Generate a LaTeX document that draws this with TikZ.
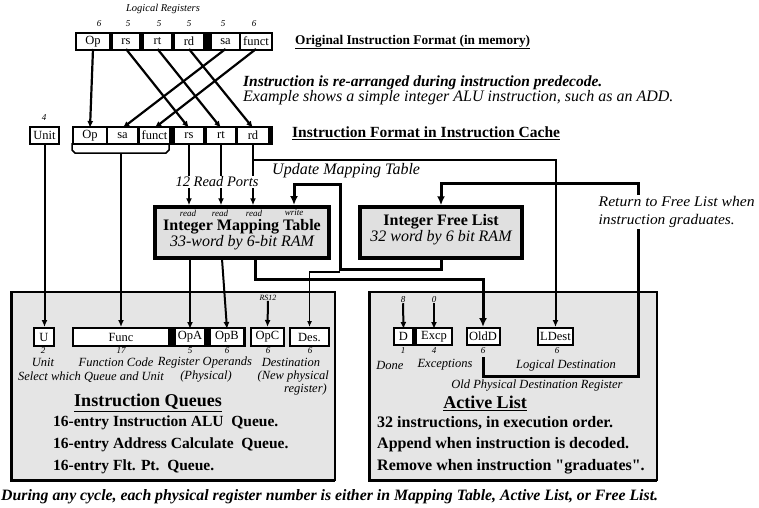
\documentclass[tikz,border=0pt]{standalone}
\usepackage{fontspec}
\setmainfont{Liberation Serif}
\usetikzlibrary{arrows.meta}
\newcommand\fsz[1]{\fontsize{#1}{#1}\selectfont}
\begin{document}
\begin{tikzpicture}[x=1pt,y=-1pt,
  blk/.style={fill=black,inner sep=0pt,outer sep=0pt},
  fld/.style={fill=white,inner sep=0pt,outer sep=0pt,minimum height=15,font=\fsz{12.5}},
  myarr/.style={-{Latex[length=7pt,width=6pt]}},
  xline/.style={line width=2.2pt,myarr},
  rline/.style={line width=2pt,myarr},
  tline/.style={line width=3pt,-{Latex[length=9pt,width=8pt]}},
  nline/.style={line width=1.3pt,-{Latex[length=6pt,width=5pt]}},
  lbl/.style={inner sep=0pt,font=\fsz{12.5}\itshape},
  numl/.style={inner sep=0pt,font=\fsz{9}\itshape},
  bodyt/.style={inner sep=0pt,anchor=west,font=\fsz{15.5}\bfseries},
  panel/.style={fill=black!10,draw=black,line width=1.2pt},
  ram/.style={fill=black!12,draw=black,line width=3.5pt,inner sep=0pt}
]
\useasboundingbox (0,0) rectangle (759,507);

% panels
\draw[panel] (11,292) rectangle (335,480);
\draw[line width=3pt] (11,292) -- (11,480) -- (335,480);
\draw[panel] (369,292) rectangle (657,480);
\draw[line width=3pt] (369,292) -- (369,480) -- (657,480);

% original format
\node[inner sep=0pt,font=\fsz{10.5}\itshape] (lr) at (163,9) {Logical Registers};
\node[numl] (n1) at (99,24) {6};
\node[numl] (n2) at (128,24) {5};
\node[numl] (n3) at (159,24) {5};
\node[numl] (n4) at (189,24) {5};
\node[numl] (n5) at (223,24) {5};
\node[numl] (n6) at (254,24) {6};
\node[blk,minimum width=198,minimum height=19] (orig) at (174,41.5) {};
\node[fld,minimum width=32] (oOp) at (93,41.5) {Op};
\node[fld,minimum width=26] (oRs) at (126,41.5) {rs};
\node[fld,minimum width=27] (oRt) at (157.5,41.5) {rt};
\node[fld,minimum width=28] (oRd) at (189,41.5) {rd};
\node[fld,minimum width=27] (oSa) at (225.5,41.5) {sa};
\node[fld,minimum width=30] (oFn) at (256,41.5) {funct};

% cache format
\node[blk,minimum width=201,minimum height=19] (cache) at (172.5,135.5) {};
\node[fld,minimum width=32] (cOp) at (90,135.5) {Op};
\node[fld,minimum width=29] (cSa) at (122.5,135.5) {sa};
\node[fld,minimum width=29] (cFn) at (154.5,135.5) {funct};
\node[fld,minimum width=28] (cRs) at (189,135.5) {rs};
\node[fld,minimum width=28] (cRt) at (221,135.5) {rt};
\node[fld,minimum width=30] (cRd) at (253,135.5) {rd};
\node[blk,minimum width=31,minimum height=19] (unitb) at (44.5,135.5) {};
\node[fld,minimum width=27] (unit) at (44.5,135.5) {Unit};
\node[numl] (nu) at (44,118) {4};

% crossing
\draw[xline] (oOp.south) -- (cOp.north);
\draw[xline] (oRs.south) -- (cRs.north);
\draw[xline] (oRt.south) -- (cRt.north);
\draw[xline] (oRd.south) -- (cRd.north);
\draw[xline] (oSa.south) -- (cSa.north);
\draw[xline] (oFn.south) -- (cFn.north);

% titles
\node[inner sep=0pt,anchor=west,font=\fsz{13.3}\bfseries] (t1) at (295,42) {\underline{Original Instruction Format (in memory)}};
\node[inner sep=0pt,anchor=west,font=\fsz{15.5}\bfseries\itshape] (t2) at (243,83) {Instruction is re-arranged during instruction predecode.};
\node[inner sep=0pt,anchor=west,font=\fsz{16}\itshape] (t3) at (243,98) {Example shows a simple integer ALU instruction, such as an ADD.};
\node[inner sep=0pt,anchor=west,font=\fsz{15.5}\bfseries] (t4) at (292,133) {\underline{Instruction Format in Instruction Cache}};

% brace
\draw[line width=1.5pt] (72,143) -- (72,150) -- (75,153) -- (166,153) -- (169,150) -- (169,143);
\coordinate (brc) at (121,153);

% RAMs
\node[ram,minimum width=174,minimum height=51] (map) at (242,232.5) {};
\node[inner sep=0pt,font=\fsz{9}\itshape] (rd1) at (188,213) {read};
\node[inner sep=0pt,font=\fsz{9}\itshape] (rd2) at (220,213) {read};
\node[inner sep=0pt,font=\fsz{9}\itshape] (rd3) at (254,213) {read};
\node[inner sep=0pt,font=\fsz{9}\itshape] (wr1) at (294,213) {write};
\node[inner sep=0pt,font=\fsz{16}\bfseries] (mapT) at (242,227) {Integer Mapping Table};
\node[inner sep=0pt,font=\fsz{16}\itshape] (mapS) at (242,243) {33-word by 6-bit RAM};

\node[ram,minimum width=162,minimum height=51] (FL) at (441,232.5) {};
\node[inner sep=0pt,font=\fsz{16}\bfseries] (flT) at (441,222) {Integer Free List};
\node[inner sep=0pt,font=\fsz{16}\itshape] (flS) at (441,238) {32 word by 6 bit RAM};

% read ports
\draw[rline] (cRs.south) -- (cRs.south |- map.north);
\draw[rline] (cRt.south) -- (cRt.south |- map.north);
\draw[rline] (cRd.south) -- (cRd.south |- map.north);
\node[inner sep=1pt,fill=white,font=\fsz{14.5}\itshape] (rp) at (217,182) {12 Read Ports};

% queue fields
\node[blk,minimum width=22,minimum height=20] (Ub) at (44,337) {};
\node[fld,minimum width=18,minimum height=16] (U) at (44,337) {U};
\node[blk,minimum width=174,minimum height=20] (FuncB) at (159,337) {};
\node[fld,minimum width=94,minimum height=16] (Func) at (121,337) {Func};
\node[fld,minimum width=28,minimum height=16] (OpA) at (190,337) {OpA};
\node[fld,minimum width=32,minimum height=16] (OpB) at (227,337) {OpB};
\node[blk,minimum width=35,minimum height=20] (OpCb) at (267.5,337) {};
\node[fld,minimum width=31,minimum height=16] (OpC) at (267.5,337) {OpC};
\node[blk,minimum width=41,minimum height=20] (Desb) at (309.5,337) {};
\node[fld,minimum width=37,minimum height=16] (Des) at (309.5,337) {Des.};
\node[inner sep=0pt,font=\fsz{8}\itshape] (rs12) at (268,298) {RS12};

% active fields
\node[blk,minimum width=60,minimum height=19] (DEb) at (423,336.5) {};
\node[fld,minimum width=17] (D) at (403.5,336.5) {D};
\node[fld,minimum width=34] (Exc) at (434,336.5) {Excp};
\node[blk,minimum width=35,minimum height=19] (OldDb) at (483,336.5) {};
\node[fld,minimum width=31] (OldD) at (483,336.5) {OldD};
\node[blk,minimum width=37,minimum height=19] (LDestb) at (555.5,336.5) {};
\node[fld,minimum width=33] (LDest) at (555.5,336.5) {LDest};
\node[numl] (dn) at (403,300) {8};
\node[numl] (en) at (434,300) {0};

% connectors
\draw[rline] (unitb.south) -- (unitb.south |- Ub.north);
\draw[rline] (brc) -- (brc |- Ub.north);
\coordinate (mo1) at (190,259);
\coordinate (mo2) at (222,259);
\draw[rline] (mo1) -- (OpA.north);
\draw[rline] (mo2) -- (OpB.north);
\draw[rline] (rs12.south) -- (OpCb.north);
\draw[rline] (dn.south) -- (D.north);
\draw[rline] (en.south) -- (Exc.north);

\coordinate (upd) at (253,160);
\draw[rline] (upd) -| (LDestb.north);
\node[inner sep=0pt,anchor=west,font=\fsz{16}\itshape] (um) at (272,171) {Update Mapping Table};

\coordinate (wp) at (294,205);
\draw[tline] (FL.south) |- (340,269) |- (294,184) -- (wp);
\coordinate (dsrc) at (340,272);
\draw[nline] (dsrc) -| (Desb.north);
\coordinate (mo3) at (255,259);
\draw[tline] (mo3) |- (483,279) -- (OldDb.north);
\coordinate (oldOut) at (483,357);
\draw[tline] (oldOut) |- (638,376) -- (638,183) -| (FL.north);
\node[anchor=west,fill=white,inner sep=1.5pt,align=left,font=\fontsize{15}{18}\selectfont\itshape] (ret) at (597,212) {\resizebox{156pt}{10.2pt}{Return to Free List when}\\\resizebox{136pt}{10.2pt}{instruction graduates.}};

% queue labels
\node[numl] (q1) at (43,351) {2};
\node[numl] (q2) at (121,351) {17};
\node[numl] (q3) at (190,351) {5};
\node[numl] (q4) at (227,351) {6};
\node[numl] (q5) at (268,351) {6};
\node[numl] (q6) at (310,351) {6};
\node[lbl] (l1) at (43,362) {Unit};
\node[lbl] (l2) at (116,362) {Function Code};
\node[lbl] (l3) at (205,362) {Register Operands};
\node[lbl] (l4) at (291,362) {Destination};
\node[lbl] (l5) at (91,377) {Select which Queue and Unit};
\node[lbl] (l6) at (206,377) {(Physical)};
\node[lbl,anchor=east] (l7) at (329,377) {(New physical};
\node[lbl,anchor=east] (l8) at (327,389) {register)};
\node[inner sep=0pt,font=\fsz{18}\bfseries] (iq) at (148,403) {\underline{Instruction Queues}};
\node[bodyt] (iq1) at (53,423) {16-entry Instruction ALU\ \ Queue.};
\node[bodyt] (iq2) at (53,445) {16-entry Address Calculate\ \ Queue.};
\node[bodyt] (iq3) at (53,467) {16-entry Flt. Pt.\ \ Queue.};

% active labels
\node[numl] (a1) at (403,351) {1};
\node[numl] (a2) at (434,351) {4};
\node[numl] (a3) at (483,351) {6};
\node[numl] (a4) at (557,351) {6};
\node[lbl] (al1) at (390,365) {Done};
\node[lbl] (al2) at (445,365) {Exceptions};
\node[lbl] (al3) at (566,365) {Logical Destination};
\node[lbl] (al4) at (537,386) {Old Physical Destination Register};
\node[inner sep=0pt,font=\fsz{18}\bfseries] (al) at (485,403) {\underline{Active List}};
\node[bodyt,font=\fsz{16}\bfseries] (al5) at (377,423) {32 instructions, in execution order.};
\node[bodyt,font=\fsz{16}\bfseries] (al6) at (377,445) {Append when instruction is decoded.};
\node[bodyt,font=\fsz{16}\bfseries] (al7) at (377,467) {Remove when instruction \textquotedbl graduates\textquotedbl.};

\node[inner sep=0pt,anchor=west,font=\fsz{15.8}\bfseries\itshape] (cap) at (1,497) {During any cycle, each physical register number is either in Mapping Table, Active List, or Free List.};
\end{tikzpicture}
\end{document}
